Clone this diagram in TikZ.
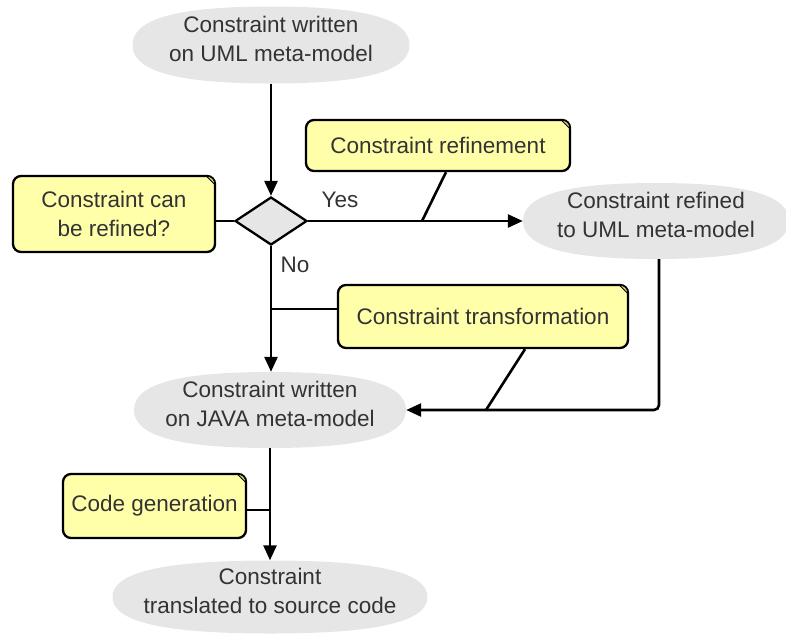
\documentclass[tikz,border=0pt]{standalone}
\usepackage{fontspec}
\setmainfont{Liberation Sans}
\usetikzlibrary{arrows.meta,shapes.geometric,calc}
\definecolor{txt}{HTML}{333333}
\definecolor{ellfill}{HTML}{E6E6E6}
\definecolor{notefill}{HTML}{FFFFAA}
\definecolor{foldc}{HTML}{D8D88A}
\newcommand{\superell}[3]{%
  \fill[ellfill] ([shift={({#2},0pt)}]#1)
   .. controls ([shift={({#2},{0.68*#3})}]#1) and ([shift={({0.68*#2},{#3})}]#1) .. ([shift={(0pt,{#3})}]#1)
   .. controls ([shift={({-0.68*#2},{#3})}]#1) and ([shift={({-#2},{0.68*#3})}]#1) .. ([shift={({-#2},0pt)}]#1)
   .. controls ([shift={({-#2},{-0.68*#3})}]#1) and ([shift={({-0.68*#2},{-#3})}]#1) .. ([shift={(0pt,{-#3})}]#1)
   .. controls ([shift={({0.68*#2},{-#3})}]#1) and ([shift={({#2},{-0.68*#3})}]#1) .. cycle;}
\tikzset{
  base/.style={text=txt, font=\fontsize{22.5}{28.5}\selectfont, align=center, inner sep=0pt},
  ell/.style n args={2}{base, rectangle, draw=none, minimum width=#1, minimum height=#2, text depth=12pt,
     path picture={\superell{path picture bounding box.center}{#1/2}{#2/2}}},
  notebox/.style={base, rectangle, draw=black, line width=2.3pt, fill=notefill, rounded corners=8pt},
  dec/.style={diamond, draw=black, line width=2.3pt, fill=ellfill, inner sep=0pt, aspect=1.5, minimum width=72pt, minimum height=48pt},
  conn/.style={line width=2.6pt, black},
  arr/.style={conn, -{Triangle[length=15pt,width=13pt]}},
  lbl/.style={text=txt, font=\fontsize{22.5}{28.5}\selectfont, inner sep=0pt}
}
\newcommand{\notefold}[1]{%
  \fill[foldc, draw=black, line width=0.8pt] ([xshift=-10pt,yshift=-1pt]#1.north east) .. controls ([xshift=-4pt,yshift=-2pt]#1.north east) and ([xshift=-2pt,yshift=-4pt]#1.north east) .. ([xshift=-1pt,yshift=-10pt]#1.north east) .. controls ([xshift=-4pt,yshift=-7pt]#1.north east) and ([xshift=-7pt,yshift=-4pt]#1.north east) .. cycle;}
\begin{document}
\begin{tikzpicture}[x=1pt,y=-1pt]
\useasboundingbox (0,0) rectangle (786,635);
% main nodes
\node[ell={277pt}{77pt}] (top) at (271,45) {Constraint written\\on UML meta-model};
\node[dec] (dia) at (271,221) {};
\node[ell={266pt}{76pt}] (ref) at (656,221) {Constraint refined\\to UML meta-model};
\node[ell={272pt}{76pt}] (java) at (270,410) {Constraint written\\on JAVA meta-model};
\node[ell={315pt}{73pt}] (bot) at (270,597) {Constraint\\translated to source code};
% notes
\node[notebox, minimum width=202pt, minimum height=76pt] (n1) at (114,214) {Constraint can\\be refined?};
\node[notebox, minimum width=264pt, minimum height=51pt] (n2) at (438,145.5) {Constraint refinement};
\node[notebox, minimum width=290pt, minimum height=63pt] (n3) at (483,316.5) {Constraint transformation};
\node[notebox, minimum width=183pt, minimum height=64pt] (n4) at (154.5,506) {Code generation};
\notefold{n1}\notefold{n2}\notefold{n3}\notefold{n4}
% attachment points
\coordinate (c1) at (422,221);
\coordinate (c2) at (271,309);
\coordinate (c3) at (486,410);
\coordinate (c4) at (270,510);
% connectors
\draw[arr] (top.south -| dia.north) -- (dia.north);
\draw[arr] (dia.east) -- (ref.west);
\draw[arr] (dia.south) -- (java.north -| dia.south);
\draw[arr] (java.south) -- (bot.north);
\draw[arr, rounded corners=5pt] ([xshift=3pt]ref.south) |- (java.east);
\draw[conn] (dia.west -| n1.east) -- (dia.west);
\draw[conn] ([xshift=8pt]n2.south) -- (c1);
\draw[conn] (c2 -| n3.west) -- (c2);
\draw[conn] ([xshift=42pt]n3.south) -- (c3);
\draw[conn] (c4 -| n4.east) -- (c4);
% labels
\node[lbl] (yes) at (340,200) {Yes};
\node[lbl] (no) at (295,265) {No};
\end{tikzpicture}
\end{document}
